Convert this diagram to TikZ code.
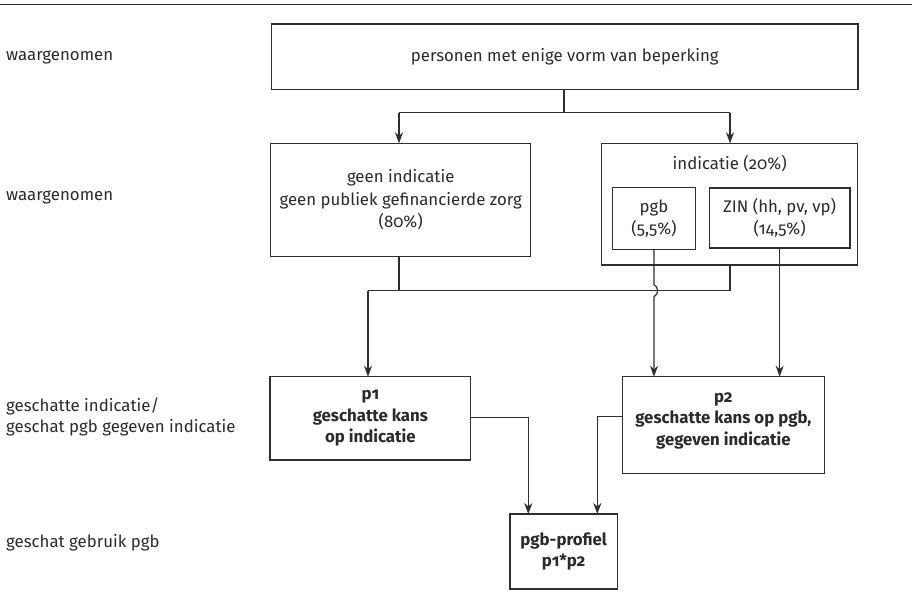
\documentclass[tikz,border=0pt]{standalone}
\usepackage{fontspec}
\setmainfont{Fira Sans}[Numbers=OldStyle]
\usetikzlibrary{arrows.meta}
\definecolor{linec}{HTML}{2E2E2E}
\definecolor{textc}{HTML}{2A2A2A}
\begin{document}
\begin{tikzpicture}[x=1pt,y=-1pt,
  box/.style={draw=linec, line width=1.2pt, inner sep=0pt, outer sep=0pt},
  txt/.style={text=textc, align=center, font=\fontsize{16.8}{22.5}\selectfont, inner sep=0pt},
  btxt/.style={txt, font=\fontsize{16.8}{21.5}\selectfont\bfseries},
  lab/.style={text=textc, anchor=west, align=left, inner sep=0pt, font=\fontsize{16.8}{20.5}\selectfont},
  conn/.style={draw=linec, line width=1.2pt},
  arr/.style={conn, -{Stealth[length=11pt,width=8pt,inset=3.5pt]}}]
\useasboundingbox (0,0) rectangle (912,611);
\draw[linec, line width=1.4pt] (0,4.3) -- (912,4.3);

% left labels
\node[lab] (w1) at (6,57) {waargenomen};
\node[lab] (w2) at (6,197) {waargenomen};
\node[lab] (g1) at (6,417) {geschatte indicatie/\\geschat pgb gegeven indicatie};
\node[lab] (g2) at (6,543) {geschat gebruik pgb};

% boxes
\node[box, txt, minimum width=586.5pt, minimum height=65.5pt] (top) at (564.75,56.75) {personen met enige vorm van beperking};
\node[box, txt, minimum width=260pt, minimum height=113.4pt] (left) at (400.7,200) {geen indicatie\\geen publiek gefinancierde zorg\\(80\%)};
\node[box, minimum width=256pt, minimum height=121.7pt] (ind) at (729.7,204.15) {};
\node[txt] (indlab) at (729.7,164) {indicatie (20\%)};
\node[box, txt, minimum width=82.4pt, minimum height=61.6pt] (pgb) at (654,218.5) {pgb\\(5,5\%)};
\node[box, txt, minimum width=140.7pt, minimum height=60pt] (zin) at (779.65,218) {ZIN (hh, pv, vp)\\(14,5\%)};
\node[box, btxt, minimum width=200.7pt, minimum height=83.3pt] (p1) at (370.35,418.35) {p1\\geschatte kans\\op indicatie};
\node[box, minimum width=201.8pt, minimum height=96.6pt] (p2) at (723.4,425) {};
\node[btxt] (p2txt) at (723.4,420.5) {p2\\geschatte kans op pgb,\\gegeven indicatie};
\node[box, btxt, minimum width=107.3pt, minimum height=75pt] (prof) at (563.65,551.5) {pgb-profiel\\p1*p2};

% split from top
\coordinate (s0) at (564,112.7);
\coordinate (sL) at (399,112.7);
\coordinate (sR) at (730,112.7);
\draw[conn] (s0 |- top.south) -- (s0);
\draw[conn] (sL) -- (sR);
\draw[arr] (sL) -- (sL |- left.north);
\draw[arr] (sR) -- (sR |- ind.north);

% merge
\coordinate (mL) at (399,290.7);
\coordinate (m1) at (368,290.7);
\coordinate (mR) at (730,290.7);
\draw[conn] (mL |- left.south) -- (mL);
\draw[conn] (mR |- ind.south) -- (mR);
\draw[conn] (m1) -- (mR);
\draw[arr] (m1) -- (m1 |- p1.north);

% pgb line with jump
\coordinate (pa) at (654,284.7);
\coordinate (pb) at (654,296.7);
\draw[arr] (pgb.south) -- (pa) .. controls (658.8,287) and (658.8,294.4) .. (pb) -- (pb |- p2.north);

% ZIN line
\draw[arr] (zin.south) -- (zin.south |- p2.north);

% to profile
\coordinate (c1) at (528.3,417.3);
\coordinate (c2) at (597.3,416.7);
\draw[arr] (p1.east |- c1) -- (c1) -- (c1 |- prof.north);
\draw[arr] (p2.west |- c2) -- (c2) -- (c2 |- prof.north);
\end{tikzpicture}
\end{document}
